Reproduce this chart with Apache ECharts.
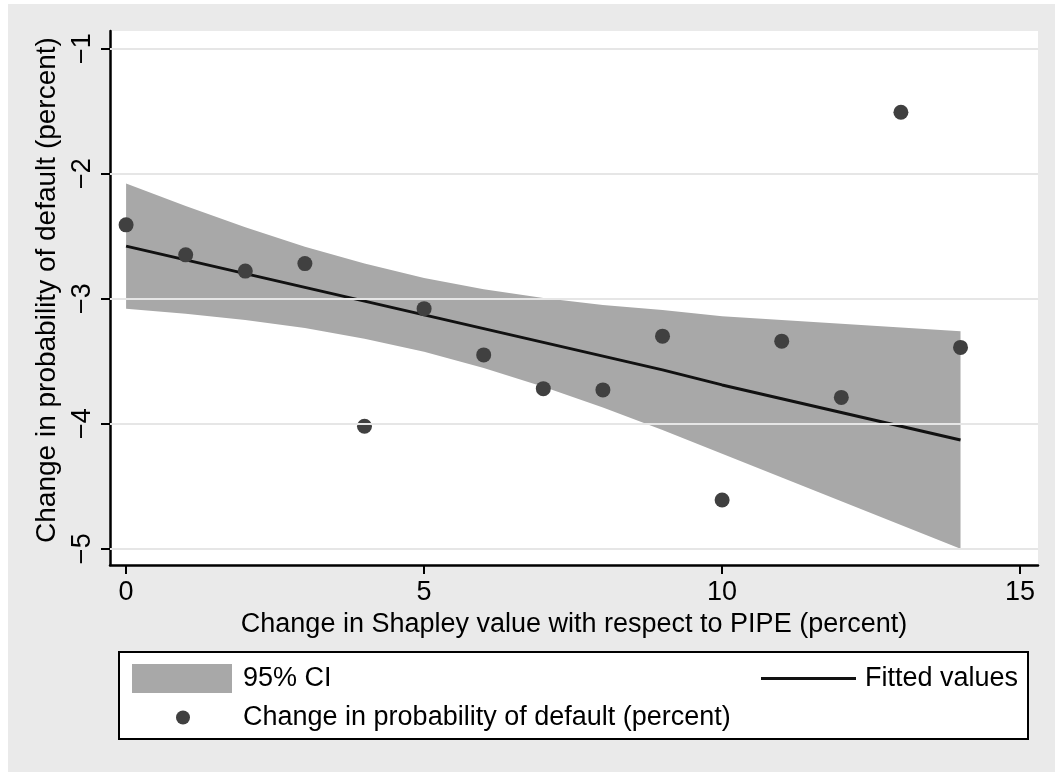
<!DOCTYPE html>
<html>
<head>
<meta charset="utf-8">
<script src="https://cdn.jsdelivr.net/npm/echarts@6/dist/echarts.min.js"></script>
<style>
html,body{margin:0;padding:0;background:#ffffff;}
#chart{width:1055px;height:772px;}
</style>
</head>
<body>
<div id="chart"></div>
<script>
// Data
const xValues = [0, 1, 2, 3, 4, 5, 6, 7, 8, 9, 10, 11, 12, 13, 14];
const probDefault = [-2.41, -2.65, -2.78, -2.72, -4.02, -3.08, -3.45, -3.72, -3.73, -3.30, -4.61, -3.34, -3.79, -1.51, -3.39];
const fittedValues = [-2.58, -2.69, -2.80, -2.91, -3.02, -3.13, -3.24, -3.35, -3.46, -3.57, -3.69, -3.80, -3.91, -4.02, -4.13];
const ciUpper = [-2.08, -2.26, -2.43, -2.585, -2.72, -2.835, -2.925, -2.995, -3.05, -3.09, -3.14, -3.17, -3.20, -3.23, -3.26];
const ciLower = [-3.08, -3.12, -3.17, -3.235, -3.32, -3.425, -3.555, -3.705, -3.87, -4.05, -4.24, -4.43, -4.62, -4.81, -5.00];
const xTicks = [0, 5, 10, 15];
const yTicks = [-5, -4, -3, -2, -1];

const FONT = 'Liberation Sans, Arial, sans-serif';
const fmt = v => String(v).replace('-', '\u2212');

const chart = echarts.init(document.getElementById('chart'), null, {renderer: 'canvas'});

const scatterData = xValues.map((x, i) => [x, probDefault[i]]);
const fitData = xValues.map((x, i) => [x, fittedValues[i]]);
const bandData = xValues.map((x, i) => [x, ciLower[i], ciUpper[i]]);

const option = {
  animation: false,
  backgroundColor: '#ffffff',
  graphic: [
    {type: 'rect', z: -10, silent: true, shape: {x: 8, y: 4, width: 1047, height: 768}, style: {fill: '#eaeaea'}},
    {type: 'rect', z: 0, silent: true, shape: {x: 119, y: 652, width: 909, height: 87}, style: {fill: '#ffffff', stroke: '#000000', lineWidth: 2}}
  ],
  grid: {left: 110, top: 31, right: 17, bottom: 207, show: true, backgroundColor: '#ffffff', borderWidth: 0},
  xAxis: {
    type: 'value', min: -0.27, max: 15.3,
    name: 'Change in Shapley value with respect to PIPE (percent)',
    nameLocation: 'middle', nameGap: 42,
    nameTextStyle: {fontFamily: FONT, fontSize: 27, color: '#000'},
    axisLine: {show: true, onZero: false, lineStyle: {color: '#000', width: 2.5}},
    axisTick: {show: true, length: 9, lineStyle: {color: '#000', width: 2}, customValues: xTicks},
    axisLabel: {fontFamily: FONT, fontSize: 27, color: '#000', margin: 14, customValues: xTicks, formatter: fmt},
    splitLine: {show: false}
  },
  yAxis: {
    type: 'value', min: -5.13, max: -0.86,
    name: 'Change in probability of default (percent)',
    nameLocation: 'middle', nameGap: 46, nameRotate: 90,
    nameTextStyle: {fontFamily: FONT, fontSize: 28, color: '#000', padding: [0, 0, 0, 16]},
    axisLine: {show: true, onZero: false, lineStyle: {color: '#000', width: 2.5}},
    axisTick: {show: true, length: 9, lineStyle: {color: '#000', width: 2}, customValues: yTicks},
    axisLabel: {fontFamily: FONT, fontSize: 27, color: '#000', margin: 14, rotate: 90, customValues: yTicks, formatter: fmt},
    splitLine: {show: false}
  },
  legend: [
    {data: ['95% CI'], left: 127, top: 659, itemWidth: 100, itemHeight: 29, icon: 'rect', z: 5,
     itemStyle: {color: '#a8a8a8'}, textStyle: {fontFamily: FONT, fontSize: 27, color: '#000', padding: [0, 0, 0, 6]}},
    {data: ['Fitted values'], left: 756, top: 660, itemWidth: 95, itemHeight: 3, icon: 'rect', z: 5,
     itemStyle: {color: '#111'}, textStyle: {fontFamily: FONT, fontSize: 27, color: '#000', padding: [0, 0, 0, 4]}},
    {data: ['Change in probability of default (percent)'], left: 171, top: 699, itemWidth: 14, itemHeight: 14, icon: 'circle', z: 5,
     itemStyle: {color: '#404040'}, textStyle: {fontFamily: FONT, fontSize: 27, color: '#000', padding: [0, 0, 0, 48]}}
  ],
  series: [
    {
      name: 'gridlines', type: 'line', data: [], z: 1, silent: true, symbol: 'none',
      markLine: {
        silent: true, symbol: 'none', animation: false,
        label: {show: false},
        lineStyle: {color: '#e6e6e6', width: 2, type: 'solid'},
        data: yTicks.map(v => ({yAxis: v}))
      }
    },
    {
      name: '95% CI', type: 'custom', z: 2, silent: true,
      data: bandData,
      encode: {x: 0, y: [1, 2]},
      itemStyle: {color: '#a8a8a8'},
      renderItem: function (params, api) {
        if (params.dataIndex !== 0) return null;
        const top = bandData.map(d => api.coord([d[0], d[2]]));
        const bot = bandData.slice().reverse().map(d => api.coord([d[0], d[1]]));
        return {type: 'polygon', shape: {points: top.concat(bot)}, style: {fill: '#a8a8a8'}};
      }
    },
    {
      name: 'Fitted values', type: 'line', z: 3, data: fitData, symbol: 'none',
      lineStyle: {color: '#111', width: 3}, itemStyle: {color: '#111'}
    },
    {
      name: 'Change in probability of default (percent)', type: 'scatter', z: 4,
      data: scatterData, symbolSize: 15, itemStyle: {color: '#404040', opacity: 1}
    }
  ]
};
chart.setOption(option);
</script>
</body>
</html>
